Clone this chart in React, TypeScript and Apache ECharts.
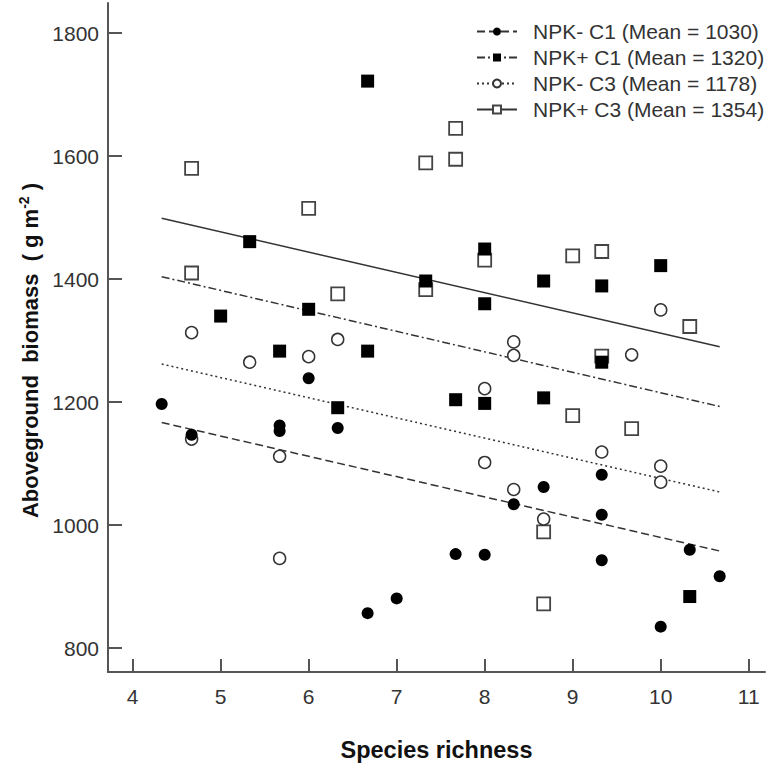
import React, { useEffect, useRef } from "react";
import * as echarts from "echarts";

const FONT = "Liberation Sans, Arial, sans-serif";

const seriesNames = [
  "NPK- C1 (Mean = 1030)",
  "NPK+ C1 (Mean = 1320)",
  "NPK- C3 (Mean = 1178)",
  "NPK+ C3 (Mean = 1354)",
];

// NPK- C1 (filled circles)
const npkMinusC1X = [4.33, 4.67, 5.67, 5.67, 6, 6.33, 6.67, 7, 7.67, 8, 8.33, 8.67, 9.33, 9.33, 9.33, 10, 10.33, 10.67];
const npkMinusC1Y = [1197, 1147, 1162, 1153, 1239, 1158, 857, 881, 953, 952, 1034, 1062, 1082, 1017, 943, 835, 960, 917];

// NPK+ C1 (filled squares)
const npkPlusC1X = [5, 5.33, 5.67, 6, 6.33, 6.67, 6.67, 7.33, 7.67, 8, 8, 8, 8.67, 8.67, 9.33, 9.33, 10, 10.33];
const npkPlusC1Y = [1340, 1461, 1283, 1351, 1191, 1722, 1283, 1397, 1204, 1449, 1360, 1198, 1397, 1207, 1389, 1265, 1422, 884];

// NPK- C3 (open circles)
const npkMinusC3X = [4.67, 4.67, 5.33, 5.67, 5.67, 6, 6.33, 8, 8, 8.33, 8.33, 8.33, 8.67, 9.33, 9.67, 10, 10, 10];
const npkMinusC3Y = [1313, 1140, 1265, 1112, 946, 1274, 1302, 1222, 1102, 1298, 1276, 1058, 1010, 1119, 1277, 1350, 1096, 1070];

// NPK+ C3 (open squares)
const npkPlusC3X = [4.67, 4.67, 6, 6.33, 7.33, 7.33, 7.67, 7.67, 8, 8.67, 8.67, 9, 9, 9.33, 9.33, 9.67, 10.33];
const npkPlusC3Y = [1580, 1410, 1515, 1376, 1589, 1383, 1645, 1595, 1431, 989, 872, 1438, 1178, 1445, 1275, 1157, 1323];

// Regression lines (start / end)
const fitX = [4.33, 10.67];
const fitNpkMinusC1 = [1167, 958];
const fitNpkPlusC1 = [1404, 1193];
const fitNpkMinusC3 = [1262, 1054];
const fitNpkPlusC3 = [1499, 1290];

const xTicks = [4, 5, 6, 7, 8, 9, 10, 11];
const yTicks = [800, 1000, 1200, 1400, 1600, 1800];

const zip = (xs: number[], ys: number[]) => xs.map((x, i) => [x, ys[i]]);

export default function App() {
  const ref = useRef<HTMLDivElement>(null);

  useEffect(() => {
    if (!ref.current) return;
    const chart = echarts.init(ref.current, null, { renderer: "svg" });

    const lineColor = "#333";
    const groups = [
      { name: seriesNames[0], fit: fitNpkMinusC1, dash: [8, 4] as any, symbol: "circle", fill: "#000", border: "#000", bw: 0, size: 12, xs: npkMinusC1X, ys: npkMinusC1Y },
      { name: seriesNames[1], fit: fitNpkPlusC1, dash: [8, 3, 2, 3] as any, symbol: "rect", fill: "#000", border: "#000", bw: 0, size: 13, xs: npkPlusC1X, ys: npkPlusC1Y },
      { name: seriesNames[2], fit: fitNpkMinusC3, dash: [2, 3] as any, symbol: "circle", fill: "#fff", border: "#333", bw: 1.5, size: 12, xs: npkMinusC3X, ys: npkMinusC3Y },
      { name: seriesNames[3], fit: fitNpkPlusC3, dash: "solid" as any, symbol: "rect", fill: "#fff", border: "#444", bw: 1.8, size: 13, xs: npkPlusC3X, ys: npkPlusC3Y },
    ];

    const lineSeries = groups.map((g) => ({
      type: "line",
      name: g.name,
      data: zip(fitX, g.fit),
      symbol: g.symbol,
      showSymbol: false,
      symbolSize: 8,
      itemStyle: { color: g.fill, borderColor: g.border, borderWidth: g.bw > 0 ? 1.2 : 0 },
      lineStyle: { color: lineColor, width: 1.5, type: g.dash },
      z: 2,
      silent: true,
    }));

    // draw open (C3) markers first so filled (C1) markers sit on top
    const scatterOrder = [3, 2, 1, 0];
    const scatterSeries = scatterOrder.map((i) => {
      const g = groups[i];
      return {
        type: "scatter",
        name: g.name,
        data: zip(g.xs, g.ys),
        symbol: g.symbol,
        symbolSize: g.size,
        itemStyle: { color: g.fill, borderColor: g.border, borderWidth: g.bw, opacity: 1 },
        z: 3,
        silent: true,
      };
    });

    chart.setOption({
      animation: false,
      backgroundColor: "#fff",
      textStyle: { fontFamily: FONT },
      grid: { left: 108, right: 4, top: 3, bottom: 97, containLabel: false },
      legend: {
        data: seriesNames,
        orient: "vertical",
        left: 471,
        top: 16,
        itemWidth: 40,
        itemHeight: 10,
        itemGap: 5,
        selectedMode: false,
        textStyle: { fontSize: 21, color: "#333", fontFamily: FONT, lineHeight: 20, padding: [0, 0, 0, 11] },
      },
      xAxis: {
        type: "value",
        min: 3.72,
        max: 11.185,
        axisLine: { show: true, onZero: false, lineStyle: { color: "#555", width: 2 } },
        axisTick: { show: true, inside: true, length: 13, customValues: xTicks, lineStyle: { color: "#555", width: 2 } },
        axisLabel: { customValues: xTicks, margin: 14, fontSize: 21, color: "#333", fontFamily: FONT, formatter: (v: number) => String(v) },
        splitLine: { show: false },
        name: "Species richness",
        nameLocation: "middle",
        nameGap: 66,
        nameTextStyle: { fontSize: 23.5, fontWeight: "bold", color: "#111", fontFamily: FONT },
      },
      yAxis: {
        type: "value",
        min: 761.3,
        max: 1849,
        axisLine: { show: true, onZero: false, lineStyle: { color: "#555", width: 2 } },
        axisTick: { show: true, inside: true, length: 14, customValues: yTicks, lineStyle: { color: "#555", width: 2 } },
        axisLabel: { customValues: yTicks, margin: 9, fontSize: 21, color: "#333", fontFamily: FONT, formatter: (v: number) => String(v) },
        splitLine: { show: false },
        name: "{a|Aboveground  biomass  ( g m}{s|-2}{a| )}",
        nameLocation: "middle",
        nameGap: 57,
        nameTextStyle: {
          fontSize: 22,
          fontWeight: "bold",
          color: "#111",
          fontFamily: FONT,
          padding: [0, 26, 0, 0],
          rich: {
            a: { fontSize: 22, fontWeight: "bold", color: "#111", fontFamily: FONT },
            s: { fontSize: 14, fontWeight: "bold", color: "#111", fontFamily: FONT, verticalAlign: "top", padding: [0, 0, 12, 0] },
          },
        },
      },
      series: [...lineSeries, ...scatterSeries],
    });

    return () => chart.dispose();
  }, []);

  return (
    <div
      ref={ref}
      style={{ position: "absolute", left: 0, top: 0, width: 769, height: 769, background: "#fff" }}
    />
  );
}
